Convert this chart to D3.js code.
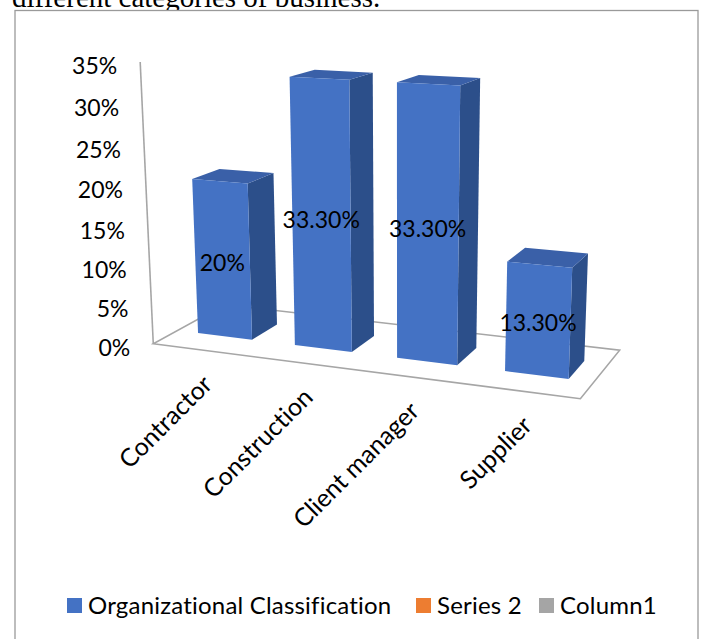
<!DOCTYPE html>
<html>
<head>
<meta charset="utf-8">
<script src="https://cdn.jsdelivr.net/npm/d3@7"></script>
<style>
  html, body { margin: 0; padding: 0; background: #fff; }
  svg { display: block; }
  text { font-variant-ligatures: none; font-feature-settings: "liga" 0, "dlig" 0; }
</style>
</head>
<body>
<svg id="chart" width="704" height="639"></svg>
<script>
// ---- data ----
const categories = ["Contractor", "Construction", "Client manager", "Supplier"];
const values = [0.20, 0.333, 0.333, 0.133];
const seriesNames = ["Organizational Classification", "Series 2", "Column1"];
const seriesColors = ["#4472c4", "#ed7d31", "#a5a5a5"];
const yTickValues = [0, 0.05, 0.10, 0.15, 0.20, 0.25, 0.30, 0.35];
const captionText = "different categories of business.";

// ---- styling ----
const FONT = "Lato, 'Open Sans', sans-serif";
const FACE = { front: "#4472c4", top: "#3a60a8", side: "#2c4f8a" };
const LINE = "#a6a6a6";

// ---- three-point perspective camera ----
// vanishing points of the width (X), height (Y) and depth (Z) directions,
// the image of the world origin and the per-unit weights of each direction
const VP_X = [-3410, -114], VP_Y = [400, 5660], VP_Z = [1000, -120];
const ORIGIN = [177.6, 330.5];
const K_X = -0.02599, K_Y = -0.0489, K_Z = 0.0338;

function project(X, Y, Z) {
  const a = X * K_X, b = Y * K_Y, c = Z * K_Z;
  const hx = ORIGIN[0] + a * VP_X[0] + b * VP_Y[0] + c * VP_Z[0];
  const hy = ORIGIN[1] + a * VP_X[1] + b * VP_Y[1] + c * VP_Z[1];
  const hw = 1 + a + b + c;
  return [hx / hw, hy / hw];
}

// world scales: categories along X (one unit per slot), values up Y (wall height 1)
const x = d3.scaleBand().domain(categories).range([0, categories.length])
  .paddingInner(0.436).paddingOuter(0.218);
const y = d3.scaleLinear().domain([0, 0.35]).range([0, 1]);
const BAR_DEPTH = 1, FLOOR_FRONT = -0.85, FLOOR_BACK = 1.8;

const svg = d3.select("#chart");
const line = d3.line();
const poly = pts => line(pts.map(p => project(...p))) + "Z";

// caption line of the surrounding document
svg.append("text")
  .attr("x", 12).attr("y", 6.5)
  .attr("font-family", "'Liberation Serif', 'Times New Roman', serif")
  .attr("font-size", 29).attr("fill", "#000")
  .text(captionText);

// chart frame
svg.append("rect")
  .attr("x", 15).attr("y", 10.5).attr("width", 683).attr("height", 700)
  .attr("fill", "#fff").attr("stroke", "#9a9a9a").attr("stroke-width", 1.3);

// floor outline
const X0 = x.range()[0], X1 = x.range()[1];
svg.append("path")
  .attr("d", poly([[X0, 0, FLOOR_FRONT], [X1, 0, FLOOR_FRONT], [X1, 0, FLOOR_BACK], [X0, 0, FLOOR_BACK]]))
  .attr("fill", "none").attr("stroke", LINE).attr("stroke-width", 1.6);

// vertical axis line
const yMax = y.domain()[1];
svg.append("path")
  .attr("d", line([project(X0, y(0), FLOOR_FRONT), project(X0, y(yMax), FLOOR_FRONT)]))
  .attr("stroke", LINE).attr("stroke-width", 1.6).attr("fill", "none");

// vertical axis tick labels
const pctFmt = d3.format(".0%");
svg.append("g").selectAll("text").data(yTickValues).join("text")
  .each(function (v) {
    const [px, py] = project(X0, y(v), FLOOR_FRONT);
    d3.select(this).attr("x", px - 23).attr("y", py + 3);
  })
  .attr("text-anchor", "end").attr("dominant-baseline", "central")
  .attr("font-family", FONT).attr("font-size", 23).attr("fill", "#000")
  .text(pctFmt);

// columns
const bars = svg.append("g").selectAll("g").data(categories.map((c, i) => ({ c, v: values[i] })))
  .join("g");

bars.each(function (d) {
  const g = d3.select(this);
  const a = x(d.c), b = a + x.bandwidth(), h = y(d.v);
  g.append("path").attr("fill", FACE.side)
    .attr("d", poly([[b, 0, 0], [b, 0, BAR_DEPTH], [b, h, BAR_DEPTH], [b, h, 0]]));
  g.append("path").attr("fill", FACE.top)
    .attr("d", poly([[a, h, 0], [b, h, 0], [b, h, BAR_DEPTH], [a, h, BAR_DEPTH]]));
  g.append("path").attr("fill", FACE.front)
    .attr("d", poly([[a, 0, 0], [b, 0, 0], [b, h, 0], [a, h, 0]]));
});

// value labels
const valueFmt = v => {
  const p = Math.round(v * 10000) / 100;
  return Number.isInteger(p) ? p + "%" : p.toFixed(2) + "%";
};
bars.append("text")
  .each(function (d) {
    const [px, py] = project(x(d.c) + x.bandwidth() / 2, y(d.v) / 2, 0);
    d3.select(this).attr("x", px).attr("y", py + 2);
  })
  .attr("text-anchor", "middle").attr("dominant-baseline", "central")
  .attr("font-family", FONT).attr("font-size", 23).attr("fill", "#000")
  .text(d => valueFmt(d.v));

// category labels, rotated along the front edge
svg.append("g").selectAll("text").data(categories).join("text")
  .attr("transform", c => {
    const [px, py] = project(x(c) + x.bandwidth() / 2, 0, FLOOR_FRONT);
    return `translate(${px + 12},${py + 36}) rotate(-45)`;
  })
  .attr("text-anchor", "end")
  .attr("font-family", FONT).attr("font-size", 25).attr("fill", "#000")
  .text(c => c);

// legend
const legendX = [67, 416, 539];
const legend = svg.append("g").selectAll("g").data(seriesNames).join("g")
  .attr("transform", (s, i) => `translate(${legendX[i]},598)`);
legend.append("rect").attr("width", 15).attr("height", 15)
  .attr("fill", (s, i) => seriesColors[i]);
legend.append("text").attr("x", 21).attr("y", 15.5)
  .attr("font-family", FONT).attr("font-size", 24).attr("letter-spacing", 0.2)
  .attr("fill", "#000")
  .text(s => s);
</script>
</body>
</html>
